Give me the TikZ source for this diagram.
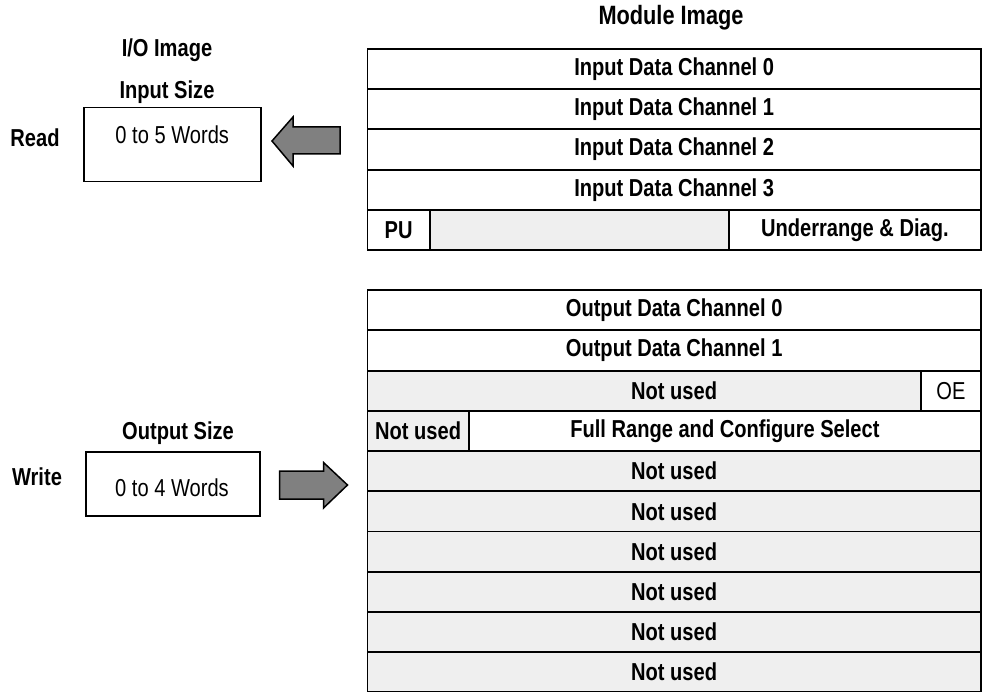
\documentclass[tikz,border=0pt]{standalone}
\usepackage{fontspec}
\setmainfont{Liberation Sans}[FakeStretch=0.82]
\usepackage{tikz}
\usetikzlibrary{positioning}

\definecolor{cellgray}{HTML}{EFEFEF}
\definecolor{arrowgray}{HTML}{808080}

\tikzset{
  lbl/.style={inner sep=0pt, font=\bfseries\fontsize{24.5}{28}\selectfont},
  plain/.style={inner sep=0pt, font=\fontsize{24.5}{28}\selectfont},
  cell/.style={draw=black, line width=1.8pt, anchor=north west, inner sep=0pt,
    minimum height=40.2pt, font=\bfseries\fontsize{24.5}{28}\selectfont},
  graycell/.style={cell, fill=cellgray},
  sizebox/.style={draw=black, line width=1.5pt, anchor=north west, inner sep=0pt},
  blockarrow/.style={draw=black, line width=1.5pt, fill=arrowgray, line join=miter},
}

\begin{document}
\begin{tikzpicture}[x=1pt, y=-1pt]
    \useasboundingbox (0,0) rectangle (982,692);

    % titles
    \node[lbl, font=\bfseries\fontsize{26.5}{30}\selectfont] (modtitle) at (671,18) {Module Image};
    \node[lbl] (iotitle) at (167,50) {I/O Image};
    \node[lbl] (insizetitle) at (167,92) {Input Size};
    \node[lbl] (outsizetitle) at (178,433) {Output Size};

    % read side
    \node[lbl] (read) at (35,138) {Read};
    \node[sizebox, minimum width=177pt, minimum height=74pt] (inbox) at (83,107) {};
    \node[plain, below=19pt of inbox.north] (inwords) {0 to 5 Words};

    % write side
    \node[lbl] (write) at (37,477) {Write};
    \node[sizebox, minimum width=174pt, minimum height=64pt] (outbox) at (85,451) {};
    \node[plain] (outwords) at (172,488) {0 to 4 Words};

    % input table
    \node[cell, minimum width=613.5pt] (in0) at (366.5,48.0) {Input Data Channel 0};
    \node[cell, minimum width=613.5pt] (in1) at (366.5,88.2) {Input Data Channel 1};
    \node[cell, minimum width=613.5pt] (in2) at (366.5,128.6) {Input Data Channel 2};
    \node[cell, minimum width=613.5pt] (in3) at (366.5,168.8) {Input Data Channel 3};
    \node[cell, minimum width=62.5pt] (pu) at (366.5,209.0) {PU};
    \node[graycell, minimum width=299pt] (pugap) at (429,209.0) {};
    \node[cell, minimum width=252pt] (diag) at (728,209.0) {Underrange \& Diag.};

    % output table
    \node[cell, minimum width=613.5pt] (out0) at (366.5,289.3) {Output Data Channel 0};
    \node[cell, minimum width=613.5pt] (out1) at (366.5,329.5) {Output Data Channel 1};
    \node[graycell, minimum width=613.5pt] (unused0) at (366.5,369.7) {Not used};
    \node[cell, fill=white, minimum width=60pt, font=\fontsize{24.5}{28}\selectfont] (oe) at (920,369.7) {OE};
    \node[graycell, minimum width=101.5pt] (unused1) at (366.5,409.9) {Not used};
    \node[cell, minimum width=512pt] (fullrange) at (468,409.9) {Full Range and Configure Select};
    \foreach \i [evaluate=\i as \yy using 450.1+40.2*(\i-2)] in {2,...,7} {
        \node[graycell, minimum width=613.5pt] (unused\i) at (366.5,\yy) {Not used};
    }

    % arrows
    \draw[blockarrow] (272,141) -- (293,117) -- (293,127) -- (340,127)
        -- (340,154) -- (293,154) -- (293,166) -- cycle;
    \draw[blockarrow] (347.5,485) -- (323.5,462.5) -- (323.5,471) -- (279.5,471)
        -- (279.5,499) -- (323.5,499) -- (323.5,508) -- cycle;
\end{tikzpicture}
\end{document}
